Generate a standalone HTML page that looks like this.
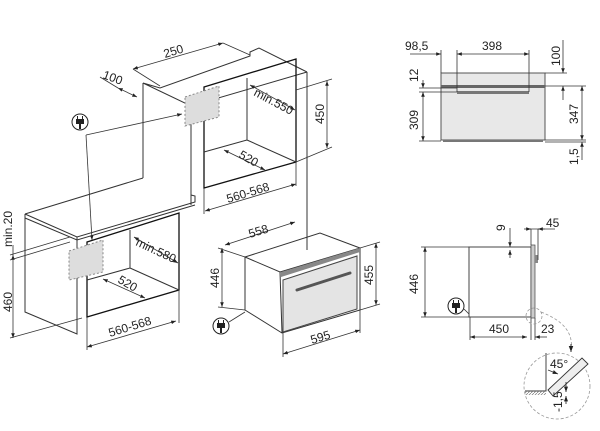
<!DOCTYPE html>
<html><head><style>
html,body{margin:0;padding:0;background:#fff;}
svg{display:block;}
text{font-family:"Liberation Sans",sans-serif;font-size:12px;fill:#222;}
</style></head><body>
<svg width="600" height="431" viewBox="0 0 600 431" xmlns="http://www.w3.org/2000/svg">
<defs>
<marker id="a" viewBox="0 0 8 6" refX="8" refY="3" markerWidth="6" markerHeight="5" orient="auto-start-reverse"><path d="M0,0L8,3L0,6z" fill="#222"/></marker>
<pattern id="h" width="3" height="3" patternUnits="userSpaceOnUse"><path d="M0,3L3,0" stroke="#777" stroke-width="0.7"/></pattern>
</defs>
<g fill="none" stroke="#333" stroke-width="1">
<path d="M143,83 L160,88 L250,56 L250,52 L259,48 L307,72 M143,83 L191,106 L307,72 M143,83 L143,178 M191,106 L191,205 M307,72 L307,250"/>
<path d="M204,87 L296,59 L296,162 L204,188 Z" stroke="#111" stroke-width="1.3"/>
<path d="M247,78 L247,140 L204,152 M247,140 L296,162"/>
<path d="M25,214 L143,178 M25,214 L77,237 L195,202 L195,196 L191,195 M25,214 L25,312 L77,334 L77,237 M25,218 L77,240 L195,205"/>
<path d="M87,242 L179,213 L179,290 L87,317 Z" stroke="#111" stroke-width="1.3"/>
<path d="M130,230 L130,268 L87,280 M130,268 L179,290"/>
<path d="M245,257 L320,233 L360,248 M245,257 L280,272 L360,248 L360,310 L282,333 L245,310 Z M280,272 L282,333"/>
</g>
<path d="M283,280 L357,256 L357,309 L283,332 Z" fill="#e4e4e4" stroke="#444"/>
<path d="M281,272 L360,248 L360,252 L281,277 Z" fill="#888"/>
<path d="M297,290 L350,273" stroke="#555" stroke-width="3" stroke-linecap="round"/>
<path d="M185,97 L219,86 L219,117 L185,126 Z" fill="#ddd" stroke="#888" stroke-dasharray="2,2"/>
<path d="M69,251 L103,240 L103,272 L69,280 Z" fill="#ddd" stroke="#888" stroke-dasharray="2,2"/>
<g fill="none" stroke="#222">
<circle cx="80" cy="122" r="8"/><circle cx="221" cy="326" r="8"/><circle cx="456" cy="306" r="8"/>
</g>
<g fill="#222">
<path d="M76,119h8v5h-3v5h-2v-5h-3z M77,116h1v3h-1z M82,116h1v3h-1z"/>
<path d="M217,323h8v5h-3v5h-2v-5h-3z M218,320h1v3h-1z M223,320h1v3h-1z"/>
<path d="M452,303h8v5h-3v5h-2v-5h-3z M453,300h1v3h-1z M458,300h1v3h-1z"/>
</g>
<g fill="none" stroke="#333" stroke-width="0.8">
<path d="M86,135 L182,114" marker-end="url(#a)"/>
<path d="M86,135 L92,240" marker-end="url(#a)"/>
<path d="M229,322 L245,312 M464,309 L472,317"/>
<path d="M133,69 L223,43" marker-start="url(#a)" marker-end="url(#a)"/>
<path d="M133,69 L160,86 M223,43 L250,55"/>
<path d="M100,77 L118,88"/>
<path d="M118,88 L137,97" marker-start="url(#a)" marker-end="url(#a)"/>
<path d="M327,81 L327,148" marker-start="url(#a)" marker-end="url(#a)"/>
<path d="M296,90 L332,79 M296,162 L332,147"/>
<path d="M250,85 L295,110" marker-start="url(#a)" marker-end="url(#a)"/>
<path d="M224,150 L265,170" marker-start="url(#a)" marker-end="url(#a)"/>
<path d="M205,211 L296,184" marker-start="url(#a)" marker-end="url(#a)"/>
<path d="M204,188 L204,214 M296,162 L296,186"/>
<path d="M13,255 L13,338" marker-start="url(#a)" marker-end="url(#a)"/>
<path d="M13,255 L13,245 M10,255 L70,237 M10,260 L70,242 M10,338 L82,318"/>
<path d="M134,237 L178,263" marker-start="url(#a)" marker-end="url(#a)"/>
<path d="M103,279 L145,298" marker-start="url(#a)" marker-end="url(#a)"/>
<path d="M87,347 L176,321" marker-start="url(#a)" marker-end="url(#a)"/>
<path d="M87,317 L87,350 M179,290 L179,323"/>
<path d="M225,245 L295,222" marker-start="url(#a)" marker-end="url(#a)"/>
<path d="M222,248 L222,307" marker-start="url(#a)" marker-end="url(#a)"/>
<path d="M218,248 L245,257 M218,307 L245,310"/>
<path d="M376,243 L376,305" marker-start="url(#a)" marker-end="url(#a)"/>
<path d="M360,248 L380,242 M360,310 L380,304"/>
<path d="M283,354 L360,330" marker-start="url(#a)" marker-end="url(#a)"/>
<path d="M283,333 L283,357 M360,310 L360,333"/>
</g>
<rect x="441" y="73" width="104" height="67" fill="#e8e8e8" stroke="#555"/>
<rect x="441" y="85" width="104" height="3" fill="#666"/>
<rect x="443" y="140" width="100" height="2" fill="#777"/>
<rect x="457" y="91" width="72" height="3" fill="#777"/>
<g fill="none" stroke="#333" stroke-width="0.8">
<path d="M410,54 L441,54" marker-end="url(#a)"/>
<path d="M457,54 L529,54" marker-start="url(#a)" marker-end="url(#a)"/>
<path d="M441,50 L441,73 M457,50 L457,92 M529,50 L529,92"/>
<path d="M563,40 L563,73" marker-end="url(#a)"/>
<path d="M563,100 L563,86" marker-end="url(#a)"/>
<path d="M545,73 L567,73 M545,86 L586,86 M545,140 L586,140 M545,142 L586,142"/>
<path d="M582,86 L582,140" marker-start="url(#a)" marker-end="url(#a)"/>
<path d="M582,160 L582,142" marker-end="url(#a)"/>
<path d="M423,80 L423,88" marker-end="url(#a)"/>
<path d="M423,92 L423,141" marker-start="url(#a)" marker-end="url(#a)"/>
<path d="M419,88 L457,88 M419,92 L457,92 M419,141 L441,141"/>
</g>
<rect x="469" y="247" width="62" height="70" fill="#fff" stroke="#444"/>
<rect x="531" y="245" width="4" height="73" fill="#ccc" stroke="#444" stroke-width="0.7"/>
<rect x="535" y="255" width="3" height="8" fill="#888"/>
<g fill="none" stroke="#333" stroke-width="0.8">
<path d="M425,247 L425,317" marker-start="url(#a)" marker-end="url(#a)"/>
<path d="M421,247 L469,247 M421,317 L469,317"/>
<path d="M510,228 L510,247" marker-end="url(#a)"/>
<path d="M510,258 L510,250" marker-end="url(#a)"/>
<path d="M530,229 L545,229 M531,229 L531,245 M538,229 L538,260" />
<path d="M524,229 L531,229" marker-end="url(#a)"/>
<path d="M555,229 L538,229" marker-end="url(#a)"/>
<path d="M470,337 L527,337" marker-start="url(#a)" marker-end="url(#a)"/>
<path d="M470,317 L470,340 M531,318 L531,340 M535,318 L535,340"/>
<path d="M547,337 L535,337" marker-end="url(#a)"/>
</g>
<g fill="none" stroke="#999" stroke-width="0.8" stroke-dasharray="3,2">
<circle cx="534" cy="316" r="8"/>
<path d="M541,312 Q575,325 571,350"/>
<circle cx="557" cy="386" r="33"/>
</g>
<path d="M571,344 L571,352" stroke="#333" marker-end="url(#a)"/>
<g fill="none" stroke="#333" stroke-width="0.9">
<path d="M546,353 L546,391 L525,391"/>
<path d="M548,390 L582,358 L588,364 L553,396 Z" fill="#eee"/>
<path d="M548,370 L558,374" marker-end="url(#a)"/>
<path d="M566,382 L566,392" marker-end="url(#a)"/>
<path d="M566,404 L566,396" marker-end="url(#a)"/>
</g>
<rect x="525" y="391" width="21" height="4" fill="url(#h)"/>
<text transform="translate(165,58) rotate(-17)">250</text>
<text transform="translate(102,78) rotate(20)">100</text>
<text transform="translate(324,124) rotate(-90)">450</text>
<text transform="translate(253,95) rotate(28)">min.550</text>
<text transform="translate(238,157) rotate(30)">520</text>
<text transform="translate(228,203) rotate(-17)">560-568</text>
<text transform="translate(12,247) rotate(-90)">min.20</text>
<text transform="translate(12,312) rotate(-90)">460</text>
<text transform="translate(135,245) rotate(25)">min.580</text>
<text transform="translate(117,282) rotate(30)">520</text>
<text transform="translate(110,337) rotate(-17)">560-568</text>
<text transform="translate(250,238) rotate(-17)">558</text>
<text transform="translate(219,288) rotate(-90)">446</text>
<text transform="translate(373,285) rotate(-90)">455</text>
<text transform="translate(312,344) rotate(-17)">595</text>
<text x="405" y="50">98,5</text>
<text x="482" y="50">398</text>
<text transform="translate(560,66) rotate(-90)">100</text>
<text transform="translate(418,82) rotate(-90)">12</text>
<text transform="translate(418,130) rotate(-90)">309</text>
<text transform="translate(578,124) rotate(-90)">347</text>
<text transform="translate(578,165) rotate(-90)">1,5</text>
<text transform="translate(505,231) rotate(-90)">9</text>
<text x="546" y="227">45</text>
<text transform="translate(418,294) rotate(-90)">446</text>
<text x="489" y="333">450</text>
<text x="541" y="333">23</text>
<text x="550" y="368">45°</text>
<text transform="translate(562,412) rotate(-90)">-1,5</text>
</svg>
</body></html>
